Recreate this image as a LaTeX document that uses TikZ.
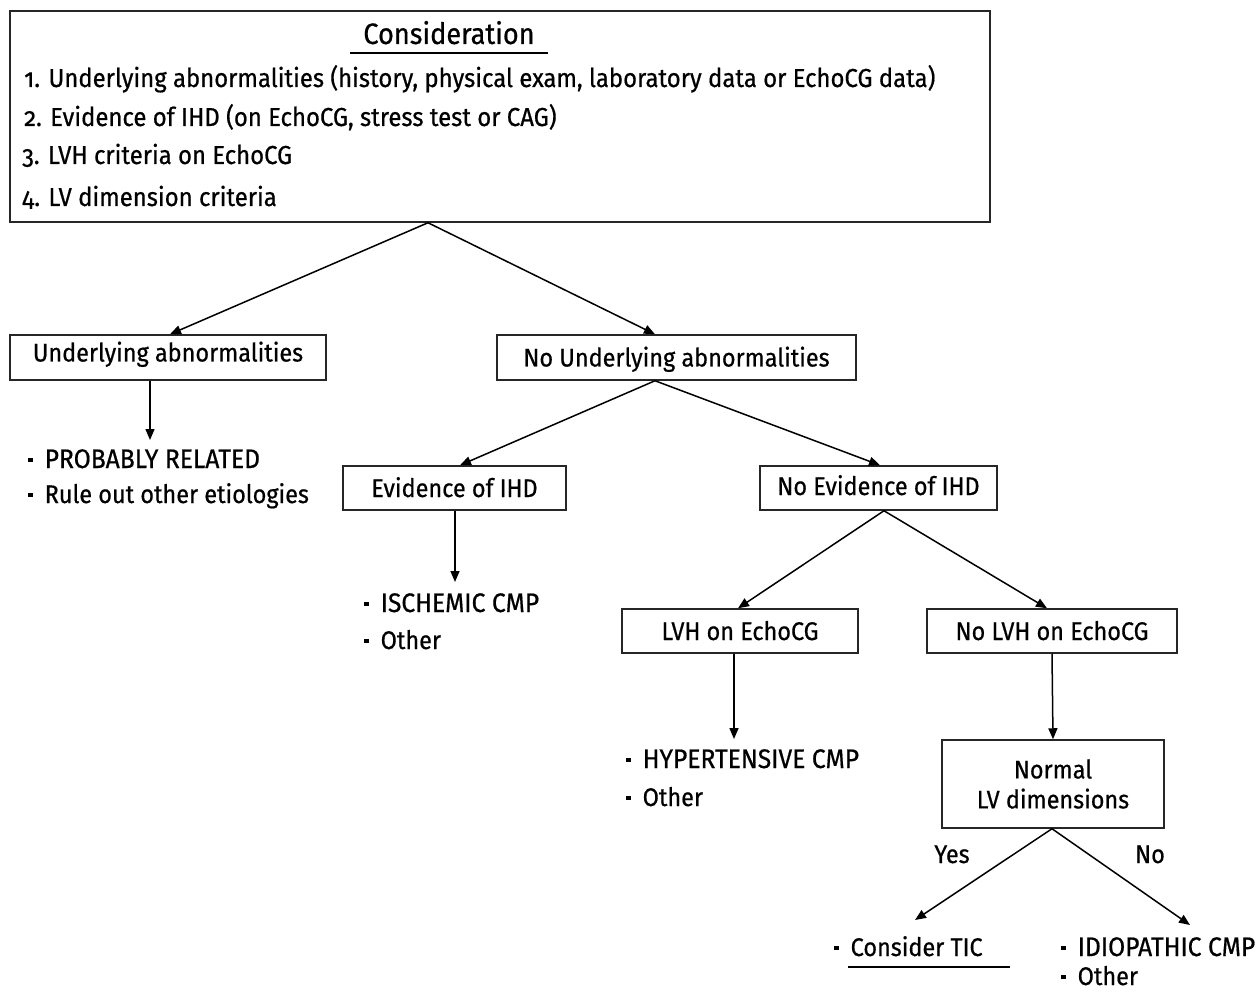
\documentclass[tikz,border=0pt]{standalone}
\usepackage{fontspec}
\setmainfont{Fira Sans}[Numbers=OldStyle, FakeStretch=0.92, FakeBold=0.6]
\usetikzlibrary{arrows.meta}
\newcommand\bulit{\rule[6pt]{4.5pt}{4.5pt}\hspace{12pt}}
\begin{document}
\begin{tikzpicture}[x=1pt,y=-1pt,
  font=\fontsize{25.5}{29}\selectfont,
  box/.style={draw=black!85, line width=1.5pt, inner sep=0pt, text height=21pt, text depth=3pt, align=center},
  arr/.style={line width=1.5pt, -{Triangle[length=11pt,width=9pt]}},
  txt/.style={inner sep=0pt, anchor=base west},
  caps/.style={font=\fontsize{26.8}{30}\selectfont},
  lbl/.style={inner sep=0pt, anchor=base},
  big/.style={font=\fontsize{26}{30}\selectfont}]
\useasboundingbox (0,0) rectangle (1259,992);
% top box
\node[box, minimum width=980pt, minimum height=211pt, text height=, text depth=] (top) at (500,116.5) {};
\node[lbl, font=\fontsize{29.5}{33}\selectfont] (title) at (449,44) {Consideration};
\draw[line width=1.2pt] (350,53) -- (548,53);
\node[txt, big] (l1) at (24,87) {1. Underlying abnormalities (history, physical exam, laboratory data or EchoCG data)};
\node[txt, big] (l2) at (24,126) {2. Evidence of IHD (on EchoCG, stress test or CAG)};
\node[txt, big] (l3) at (22,164) {3. LVH criteria on EchoCG};
\node[txt, big] (l4) at (22,206) {4. LV dimension criteria};
% level 1
\node[box, minimum width=316pt, minimum height=45pt] (ua) at (168,357.5) {\raisebox{5pt}{Underlying abnormalities}};
\node[box, minimum width=359pt, minimum height=45pt] (nua) at (676.5,357.5) {No Underlying abnormalities};
\draw[arr] ([xshift=-72pt]top.south) -- ([xshift=2pt]ua.north);
\draw[arr] ([xshift=-72pt]top.south) -- ([xshift=-21.5pt]nua.north);
% underlying list
\coordinate (ualist) at (150,440);
\draw[arr] ([xshift=-18pt]ua.south) -- (ualist);
\node[txt, caps] (pr) at (28,468) {\bulit PROBABLY RELATED};
\node[txt] (ro) at (28,503) {\bulit Rule out other etiologies};
% level 2
\node[box, minimum width=223pt, minimum height=44pt] (eihd) at (454.5,488) {Evidence of IHD};
\node[box, minimum width=237pt, minimum height=44pt] (neihd) at (878.5,488) {\raisebox{2pt}{No Evidence of IHD}};
\draw[arr] ([xshift=-21.5pt]nua.south) -- ([xshift=5.5pt]eihd.north);
\draw[arr] ([xshift=-21.5pt]nua.south) -- ([xshift=1.5pt]neihd.north);
\coordinate (ihdlist) at (455,582);
\draw[arr] ([xshift=0.5pt]eihd.south) -- (ihdlist);
\node[txt, caps] (isc) at (364,612) {\bulit ISCHEMIC CMP};
\node[txt] (oth1) at (364,649) {\bulit Other};
% level 3
\node[box, minimum width=236pt, minimum height=44pt] (lvh) at (740,631) {LVH on EchoCG};
\node[box, minimum width=250pt, minimum height=44pt] (nlvh) at (1052,631) {No LVH on EchoCG};
\draw[arr] ([xshift=5.5pt]neihd.south) -- ([xshift=-2pt]lvh.north);
\draw[arr] ([xshift=5.5pt]neihd.south) -- ([xshift=-5pt]nlvh.north);
\coordinate (lvhlist) at (734,739);
\draw[arr] ([xshift=-6pt]lvh.south) -- (lvhlist);
\node[txt, caps] (hyp) at (626,768) {\bulit HYPERTENSIVE CMP};
\node[txt] (oth2) at (626,806) {\bulit Other};
% level 4
\node[box, minimum width=222pt, minimum height=88pt, text height=, text depth=, font=\fontsize{25.5}{30}\selectfont] (norm) at (1053,784) {Normal\\LV dimensions};
\draw[arr] (nlvh.south) -- (norm.north);
\coordinate (yesend) at (915,920);
\coordinate (noend) at (1190,925);
\draw[arr] ([xshift=-1pt]norm.south) -- (yesend);
\draw[arr] ([xshift=-1pt]norm.south) -- (noend);
\node[lbl] (yes) at (952,863) {Yes};
\node[lbl] (no) at (1150,863) {No};
\node[txt] (tic) at (834,956) {\bulit Consider TIC};
\draw[line width=1.2pt] (848,967) -- (1010,967);
\node[txt, caps] (idio) at (1061,956) {\bulit IDIOPATHIC CMP};
\node[txt] (oth3) at (1061,985) {\bulit Other};
\end{tikzpicture}
\end{document}
